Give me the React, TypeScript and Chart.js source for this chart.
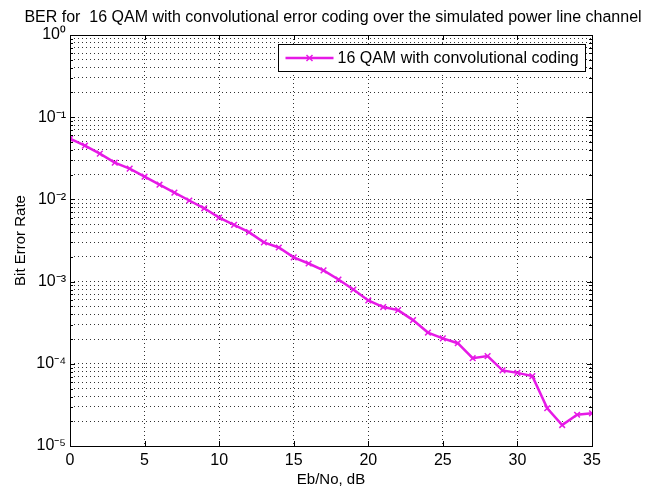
import React, { useEffect, useRef } from 'react';
import { Chart, registerables } from 'chart.js';

Chart.register(...registerables);

// ---- data ----
const ebNo: number[] = [
  0, 1, 2, 3, 4, 5, 6, 7, 8, 9, 10, 11, 12, 13, 14, 15, 16, 17,
  18, 19, 20, 21, 22, 23, 24, 25, 26, 27, 28, 29, 30, 31, 32, 33, 34, 35,
];
const ber: number[] = [
  0.0547, 0.045, 0.036, 0.028, 0.0237, 0.0189, 0.0151, 0.0121, 0.0097, 0.0078,
  0.006, 0.0049, 0.004, 0.003, 0.0026, 0.00197, 0.00166, 0.00137, 0.00106, 0.0008,
  0.00059, 0.00049, 0.00045, 0.00034, 0.00024, 0.000204, 0.000178, 0.000117, 0.000124, 0.0000832,
  0.0000776, 0.0000708, 0.0000288, 0.000018, 0.000024, 0.000025,
];
const xTickValues: number[] = [0, 5, 10, 15, 20, 25, 30, 35];
const yDecades: number[] = [-5, -4, -3, -2, -1, 0];
const yMinorMultipliers: number[] = [2, 3, 4, 5, 6, 7, 8, 9];

const titleText = 'BER for  16 QAM with convolutional error coding over the simulated power line channel';
const seriesLabel = '16 QAM with convolutional coding';
const xTitle = 'Eb/No, dB';
const yTitle = 'Bit Error Rate';

const FONT = '"Liberation Sans", Arial, sans-serif';
const LINE_COLOR = 'rgb(230,25,230)';

const SUP: Record<string, string> = {
  '-': '\u207B', '0': '\u2070', '1': '\u00B9', '2': '\u00B2', '3': '\u00B3',
  '4': '\u2074', '5': '\u2075', '6': '\u2076', '7': '\u2077', '8': '\u2078', '9': '\u2079',
};
const sup = (s: string) => s.split('').map((c) => SUP[c] ?? c).join('');

const isDecade = (v: number) => {
  const l = Math.log10(v);
  return Math.abs(l - Math.round(l)) < 1e-9;
};

const framePlugin = {
  id: 'matlabFrame',
  afterDraw(chart: any) {
    const { ctx, chartArea: a, scales } = chart;
    const xs = scales.x;
    const ys = scales.y;
    ctx.save();
    ctx.strokeStyle = '#000';
    ctx.lineWidth = 1;
    ctx.setLineDash([]);
    // inward tick marks
    ctx.beginPath();
    xTickValues.forEach((v) => {
      const px = Math.round(xs.getPixelForValue(v)) + 0.5;
      ctx.moveTo(px, a.bottom);
      ctx.lineTo(px, a.bottom - 5);
      ctx.moveTo(px, a.top);
      ctx.lineTo(px, a.top + 5);
    });
    ys.ticks.forEach((t: any) => {
      const py = Math.round(ys.getPixelForValue(t.value)) + 0.5;
      const len = isDecade(t.value) ? 5 : 3;
      ctx.moveTo(a.left, py);
      ctx.lineTo(a.left + len, py);
      ctx.moveTo(a.right, py);
      ctx.lineTo(a.right - len, py);
    });
    ctx.stroke();
    // frame
    ctx.strokeRect(Math.round(a.left) + 0.5, Math.round(a.top) + 0.5,
      Math.round(a.right - a.left), Math.round(a.bottom - a.top));

    // legend
    ctx.font = `16px ${FONT}`;
    const tw = ctx.measureText(seriesLabel).width;
    const boxW = Math.round(tw + 66);
    const boxH = 27;
    const bx = Math.round(a.right) - 7 - boxW + 0.5;
    const by = Math.round(a.top) + 9 + 0.5;
    ctx.fillStyle = '#fff';
    ctx.fillRect(bx, by, boxW, boxH);
    ctx.strokeStyle = '#000';
    ctx.strokeRect(bx, by, boxW, boxH);
    const cy = by + boxH / 2;
    ctx.strokeStyle = LINE_COLOR;
    ctx.lineWidth = 2.5;
    ctx.beginPath();
    ctx.moveTo(bx + 7, cy);
    ctx.lineTo(bx + 55, cy);
    ctx.stroke();
    ctx.lineWidth = 1.5;
    ctx.beginPath();
    const mx = bx + 31;
    ctx.moveTo(mx - 3, cy - 3); ctx.lineTo(mx + 3, cy + 3);
    ctx.moveTo(mx - 3, cy + 3); ctx.lineTo(mx + 3, cy - 3);
    ctx.stroke();
    ctx.fillStyle = '#000';
    ctx.textBaseline = 'middle';
    ctx.textAlign = 'left';
    ctx.fillText(seriesLabel, bx + 59, cy + 1);

    // title
    ctx.font = `16px ${FONT}`;
    ctx.textAlign = 'center';
    ctx.textBaseline = 'middle';
    ctx.fillText(titleText, (a.left + a.right) / 2 + 2, 18);
    ctx.restore();
  },
};

export default function App() {
  const ref = useRef<HTMLCanvasElement>(null);

  useEffect(() => {
    if (!ref.current) return;
    const gridOpts = {
      color: 'rgba(0,0,0,0.8)',
      lineWidth: 1,
      drawTicks: false,
    };
    const chart = new Chart(ref.current, {
      type: 'line',
      data: {
        labels: ebNo,
        datasets: [
          {
            label: seriesLabel,
            data: ebNo.map((x, i) => ({ x, y: ber[i] })),
            borderColor: LINE_COLOR,
            backgroundColor: LINE_COLOR,
            borderWidth: 2.5,
            pointStyle: 'crossRot',
            pointRadius: 4,
            pointBorderWidth: 1.5,
            pointBorderColor: LINE_COLOR,
            tension: 0,
            fill: false,
          },
        ],
      },
      options: {
        responsive: false,
        maintainAspectRatio: false,
        animation: false,
        layout: { padding: { left: 0, right: 55, top: 35, bottom: 0 } },
        plugins: {
          legend: { display: false },
          tooltip: { enabled: false },
          title: { display: false },
        },
        scales: {
          x: {
            type: 'linear',
            min: 0,
            max: 35,
            afterBuildTicks: (scale: any) => {
              scale.ticks = xTickValues.map((v) => ({ value: v }));
            },
            afterFit: (scale: any) => {
              scale.height = 44;
            },
            grid: { ...gridOpts },
            border: { display: false, dash: [1, 3] },
            ticks: {
              autoSkip: false,
              maxRotation: 0,
              padding: 5,
              color: '#000',
              font: { family: FONT, size: 16 },
            },
            title: {
              display: true,
              text: xTitle,
              color: '#000',
              font: { family: FONT, size: 15 },
              padding: { top: 0, bottom: 1 },
            },
          },
          y: {
            type: 'logarithmic',
            min: 1e-5,
            max: 1,
            afterBuildTicks: (scale: any) => {
              const t: { value: number }[] = [];
              yDecades.forEach((d) => {
                t.push({ value: Math.pow(10, d) });
                if (d < 0) {
                  yMinorMultipliers.forEach((m) => t.push({ value: m * Math.pow(10, d) }));
                }
              });
              scale.ticks = t;
            },
            afterFit: (scale: any) => {
              scale.width = 70;
            },
            grid: { ...gridOpts },
            border: { display: false, dash: [1, 3] },
            ticks: {
              autoSkip: false,
              padding: 4,
              color: '#000',
              font: { family: FONT, size: 16 },
              callback: (v: any) => {
                const val = Number(v);
                if (!isDecade(val)) return '';
                return '10' + sup(String(Math.round(Math.log10(val))));
              },
            },
            title: {
              display: true,
              text: yTitle,
              color: '#000',
              font: { family: FONT, size: 15 },
              padding: { top: 12, bottom: 0 },
            },
          },
        },
      },
      plugins: [framePlugin],
    } as any);
    return () => chart.destroy();
  }, []);

  return (
    <div style={{ position: 'absolute', left: 0, top: 0, width: 647, height: 490, background: '#fff' }}>
      <canvas ref={ref} width={647} height={490} style={{ display: 'block' }} />
    </div>
  );
}
